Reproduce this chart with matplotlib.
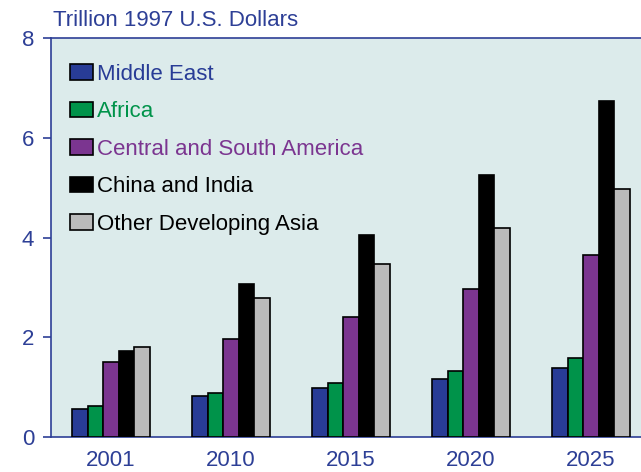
import numpy as np
import matplotlib
matplotlib.use('Agg')
from matplotlib import pyplot as plt

plt.rcParams['font.family'] = ['Liberation Sans', 'DejaVu Sans']

# Data
years = ['2001', '2010', '2015', '2020', '2025']
regions = ['Middle East', 'Africa', 'Central and South America',
           'China and India', 'Other Developing Asia']
middle_east = [0.57, 0.82, 0.98, 1.17, 1.38]
africa = [0.62, 0.89, 1.08, 1.32, 1.59]
central_south_america = [1.50, 1.96, 2.41, 2.96, 3.65]
china_india = [1.72, 3.06, 4.05, 5.26, 6.74]
other_asia = [1.80, 2.78, 3.47, 4.20, 4.98]

series = [middle_east, africa, central_south_america, china_india, other_asia]
colors = ['#283c96', '#00934a', '#7b3590', '#000000', '#bbbbbb']
label_colors = ['#283c96', '#00934a', '#7b3590', '#000000', '#000000']
axis_blue = '#2d3f96'

fig = plt.figure(figsize=(6.41, 4.72), dpi=100)
ax = fig.add_axes([51/641, 35/472, 600/641, 399/472])
ax.set_facecolor('#dcebeb')

x = np.arange(len(years))
w = 0.13
for i, (vals, c, lab) in enumerate(zip(series, colors, regions)):
    ax.bar(x + (i - 2) * w, vals, w, color=c, edgecolor='black',
           linewidth=1.2, label=lab, zorder=3)

ax.set_xlim(-0.5, 4.5)
ax.set_ylim(0, 8)
ax.set_yticks([0, 2, 4, 6, 8])
ax.set_xticks(x)
ax.set_xticklabels(years)
ax.tick_params(axis='y', direction='out', length=6, width=1.2,
               color=axis_blue, labelcolor=axis_blue, labelsize=16, pad=6)
ax.tick_params(axis='x', length=0, labelcolor=axis_blue, labelsize=16, pad=9)

for side in ['left', 'bottom', 'top']:
    ax.spines[side].set_color(axis_blue)
    ax.spines[side].set_linewidth(1.2)
ax.spines['right'].set_visible(False)

fig.text(53/641, 1 - 20/472, 'Trillion 1997 U.S. Dollars', color=axis_blue,
         fontsize=16, ha='left', va='center')

leg = ax.legend(loc='upper left', bbox_to_anchor=(0.0167, 0.957), frameon=False,
                fontsize=16, handlelength=1.05, handleheight=0.7,
                handletextpad=0.18, labelspacing=0.74, borderaxespad=0)
for txt, c in zip(leg.get_texts(), label_colors):
    txt.set_color(c)

fig.savefig('out.png', dpi=100)
